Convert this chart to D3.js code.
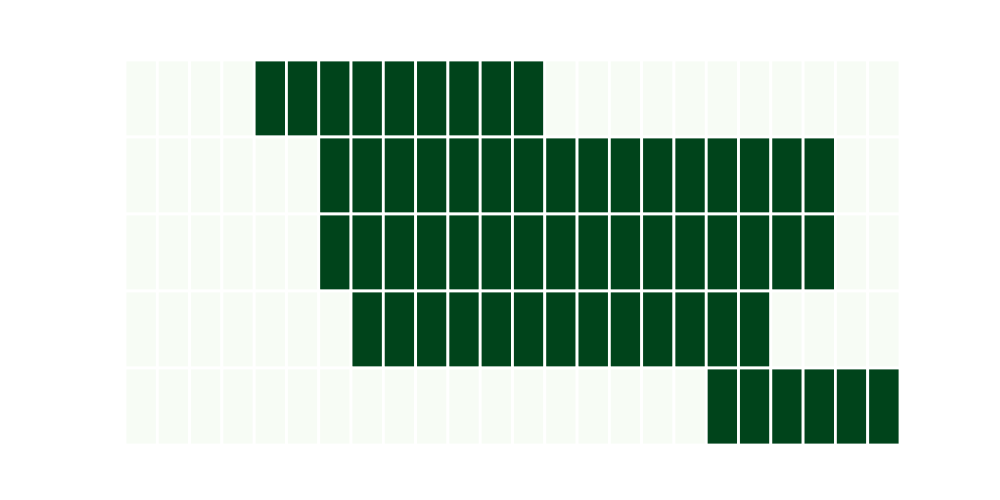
<!DOCTYPE html>
<html>
<head>
<meta charset="utf-8">
<script src="https://cdn.jsdelivr.net/npm/d3@7"></script>
<style>
  body { margin: 0; background: #fff; }
</style>
</head>
<body>
<div id="chart"></div>
<script>
// rows of the grid, top to bottom
var rows = ["r0", "r1", "r2", "r3", "r4"];
// 24 columns
var cols = d3.range(24);

// on/off values per row
var row0 = [0,0,0,0,1,1,1,1,1,1,1,1,1,0,0,0,0,0,0,0,0,0,0,0];
var row1 = [0,0,0,0,0,0,1,1,1,1,1,1,1,1,1,1,1,1,1,1,1,1,0,0];
var row2 = [0,0,0,0,0,0,1,1,1,1,1,1,1,1,1,1,1,1,1,1,1,1,0,0];
var row3 = [0,0,0,0,0,0,0,1,1,1,1,1,1,1,1,1,1,1,1,1,0,0,0,0];
var row4 = [0,0,0,0,0,0,0,0,0,0,0,0,0,0,0,0,0,0,1,1,1,1,1,1];
var values = [row0, row1, row2, row3, row4];

var width = 1000, height = 500;
var margin = {top: 60, right: 100, bottom: 55, left: 125};

var svg = d3.select("#chart")
  .append("svg")
    .attr("width", width)
    .attr("height", height);

var x = d3.scaleBand()
  .domain(cols)
  .range([margin.left, width - margin.right])
  .padding(0);

var y = d3.scaleBand()
  .domain(rows)
  .range([margin.top, height - margin.bottom])
  .padding(0);

var color = d3.scaleSequential(d3.interpolateGreens).domain([0, 1]);

// flatten into cells
var cells = [];
values.forEach(function(r, i) {
  r.forEach(function(v, j) {
    cells.push({row: rows[i], col: cols[j], value: v});
  });
});

svg.append("g")
  .selectAll("rect")
  .data(cells)
  .enter()
  .append("rect")
    .attr("x", d => x(d.col))
    .attr("y", d => y(d.row))
    .attr("width", x.bandwidth())
    .attr("height", y.bandwidth())
    .style("fill", d => color(d.value))
    .style("stroke", "#fff")
    .style("stroke-width", 2.8);
</script>
</body>
</html>
